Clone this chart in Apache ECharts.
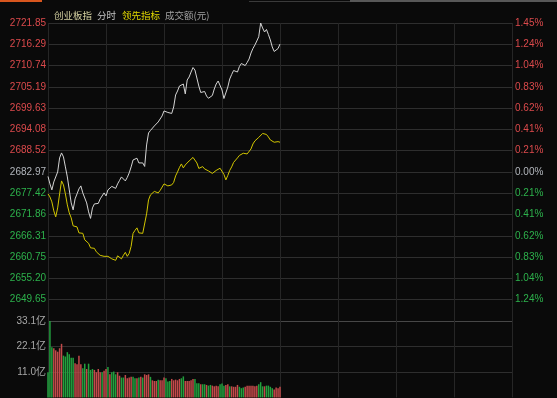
<!DOCTYPE html>
<html>
<head>
<meta charset="utf-8">
<title>创业板指 分时</title>
<script src="https://cdn.jsdelivr.net/npm/echarts@6/dist/echarts.min.js"></script>
<style>
html, body { margin: 0; padding: 0; background: #0a0a0a; }
#main { width: 557px; height: 398px; }
</style>
</head>
<body>
<div id="main"></div>
<script>
var preClose = 2682.97;
// 价格轴刻度 / 涨跌幅刻度
var priceTicks = [2721.85, 2716.29, 2710.74, 2705.19, 2699.63, 2694.08, 2688.52, 2682.97, 2677.42, 2671.86, 2666.31, 2660.75, 2655.20, 2649.65];
var pctLabels = ['1.45%', '1.24%', '1.04%', '0.83%', '0.62%', '0.41%', '0.21%', '0.00%', '0.21%', '0.41%', '0.62%', '0.83%', '1.04%', '1.24%'];
// 成交额刻度(亿)
var volTicks = [11.0, 22.1, 33.1];
var volLabels = ['11.0亿', '22.1亿', '33.1亿'];

// 分时价格(白线), 9:30 起每分钟一个点, 到 11:30
var priceData = [
	2681.82, 2679.87, 2678.30, 2680.39, 2679.87, 2683.00, 2686.65, 2687.95, 2686.91, 2684.30,
	2681.69, 2678.30, 2674.91, 2673.09, 2675.96, 2677.26, 2678.56, 2679.35, 2677.52, 2677.78,
	2674.91, 2672.57, 2670.87, 2673.61, 2674.65, 2674.91, 2674.78, 2675.96, 2675.44, 2677.52,
	2676.74, 2678.30, 2677.91, 2679.22, 2678.83, 2678.70, 2679.87, 2680.78, 2681.69, 2681.43,
	2680.65, 2681.56, 2682.74, 2684.30, 2686.12, 2685.68, 2686.57, 2685.34, 2685.86, 2685.34,
	2684.43, 2690.03, 2693.16, 2693.81, 2694.20, 2694.99, 2694.99, 2696.03, 2695.77, 2697.59,
	2698.90, 2698.90, 2698.51, 2698.38, 2698.25, 2699.94, 2703.07, 2704.11, 2705.41, 2704.89,
	2705.93, 2703.35, 2706.98, 2707.76, 2709.06, 2710.23, 2709.58, 2707.50, 2705.41, 2703.72,
	2703.85, 2703.98, 2702.80, 2702.21, 2702.21, 2702.93, 2704.63, 2705.93, 2706.72, 2706.46,
	2704.37, 2702.15, 2701.89, 2705.15, 2707.24, 2708.41, 2709.45, 2709.58, 2709.06, 2710.49,
	2711.28, 2710.88, 2710.75, 2711.54, 2712.45, 2714.02, 2715.19, 2716.10, 2717.15, 2718.27,
	2721.85, 2720.55, 2719.50, 2720.16, 2718.85, 2717.42, 2715.59, 2714.42, 2714.16, 2715.19,
	2716.36
];
// 领先指标(黄线)
var leadData = [
	2677.26, 2676.48, 2675.18, 2672.83, 2671.27, 2673.61, 2677.26, 2680.65, 2679.61, 2677.26,
	2674.39, 2672.31, 2671.01, 2668.92, 2669.18, 2668.66, 2667.10, 2666.58, 2666.97, 2665.28,
	2665.67, 2664.36, 2663.19, 2662.67, 2663.06, 2662.15, 2661.76, 2661.23, 2660.84, 2660.97,
	2660.45, 2660.97, 2660.71, 2660.32, 2660.58, 2659.93, 2661.10, 2660.71, 2660.32, 2661.23,
	2662.02, 2660.97, 2661.76, 2663.58, 2666.97, 2667.75, 2668.40, 2667.10, 2667.36, 2666.97,
	2666.58, 2672.05, 2675.70, 2677.00, 2677.52, 2677.91, 2678.17, 2677.52, 2678.17, 2678.56,
	2679.87, 2679.74, 2679.35, 2679.61, 2679.61, 2680.26, 2681.95, 2683.00, 2684.17, 2685.08,
	2684.04, 2684.82, 2685.21, 2685.86, 2686.38, 2686.78, 2686.65, 2685.34, 2683.91, 2683.65,
	2684.38, 2683.78, 2683.91, 2683.26, 2682.87, 2682.61, 2683.00, 2683.39, 2683.65, 2683.96,
	2684.12, 2682.34, 2680.91, 2682.08, 2683.39, 2684.30, 2685.47, 2685.68, 2686.65, 2687.30,
	2687.69, 2687.87, 2687.69, 2687.69, 2688.08, 2688.99, 2690.29, 2691.08, 2691.47, 2691.99,
	2692.38, 2693.03, 2692.51, 2692.77, 2692.12, 2691.34, 2690.82, 2690.74, 2690.74, 2690.90,
	2690.74
];
// 每分钟成交额(亿)
var volData = [
	10.9, 33.1, 21.7, 21.3, 20.4, 19.8, 21.3, 23.2, 18.1, 17.7,
	19.6, 18.7, 17.2, 17.2, 14.8, 14.4, 18.0, 14.4, 12.6, 14.6,
	12.3, 14.6, 11.9, 12.3, 11.9, 10.9, 12.3, 10.9, 10.9, 11.5,
	12.3, 13.2, 10.0, 10.9, 11.2, 10.0, 10.9, 9.4, 8.6, 8.6,
	9.7, 8.3, 8.6, 8.9, 8.9, 8.3, 8.3, 8.6, 8.9, 8.6,
	10.0, 9.7, 10.0, 8.9, 7.4, 7.1, 7.1, 7.7, 7.4, 7.4,
	8.6, 8.3, 6.9, 7.1, 8.0, 7.4, 7.7, 7.4, 8.0, 8.3,
	9.1, 7.1, 7.1, 7.1, 7.4, 8.0, 8.0, 6.1, 6.1, 5.7,
	5.7, 5.7, 5.4, 5.1, 5.4, 5.1, 4.8, 5.1, 4.8, 5.7,
	6.0, 5.1, 5.4, 5.7, 4.8, 4.8, 4.6, 4.6, 5.4, 4.6,
	4.0, 4.3, 4.6, 5.1, 5.1, 5.1, 5.1, 4.8, 5.1, 5.7,
	6.6, 4.8, 4.8, 5.1, 5.1, 4.6, 4.0, 3.4, 4.3, 4.0,
	4.6
];
// 1=涨(红) 0=跌(绿)
var volUp = [
	0, 0, 0, 1, 1, 1, 1, 1, 0, 0,
	0, 0, 0, 0, 1, 1, 1, 1, 0, 0,
	1, 0, 0, 0, 1, 1, 1, 1, 0, 1,
	1, 0, 1, 0, 0, 0, 1, 1, 0, 0,
	1, 1, 1, 1, 0, 0, 1, 0, 1, 0,
	1, 1, 1, 0, 1, 1, 1, 0, 1, 1,
	1, 0, 0, 0, 1, 1, 1, 1, 1, 0,
	0, 1, 1, 1, 1, 1, 0, 0, 0, 1,
	0, 0, 1, 0, 0, 1, 1, 1, 1, 0,
	0, 0, 1, 1, 0, 1, 1, 1, 1, 0,
	0, 0, 1, 1, 1, 1, 1, 1, 1, 0,
	0, 0, 1, 0, 0, 0, 0, 1, 1, 1,
	1
];

var RED = '#dc4a4c';
var GREEN = '#2db24c';
var GRAY = '#b2b6bc';
var labelFont = '"Liberation Sans", Arial, "Noto Sans CJK SC", sans-serif';
var titleFont = '9.5px "Noto Sans CJK SC"';

function tickColor(val) {
	var v = parseFloat(val);
	if (v > preClose + 0.001) {
		return RED;
	} else if (v < preClose - 0.001) {
		return GREEN;
	}
	return GRAY;
}

function tickIndex(arr, val) {
	var v = parseFloat(val);
	for (var i = 0; i < arr.length; i++) {
		if (Math.abs(arr[i] - v) < 0.001) {
			return i;
		}
	}
	return -1;
}

var priceArr = [];
var leadArr = [];
var volArr = [];
for (var i = 0; i < priceData.length; i++) {
	priceArr[priceArr.length] = [i, priceData[i]];
	leadArr[leadArr.length] = [i, leadData[i]];
}
for (var j = 0; j < volData.length; j++) {
	volArr[volArr.length] = {
		value : [j, volData[j]],
		itemStyle : { color : volUp[j] == 1 ? '#c24a4a' : '#22a03e' }
	};
}

var chart = echarts.init(document.getElementById('main'), null, { renderer : 'canvas' });
var option = {
	backgroundColor : '#0a0a0a',
	animation : false,
	graphic : [
		{ type : 'rect', shape : { x : 0, y : 0, width : 42, height : 2 }, style : { fill : '#d8561e' } },
		{ type : 'rect', shape : { x : 249, y : 1, width : 101, height : 1 }, style : { fill : '#3a3a3a' } },
		{ type : 'rect', shape : { x : 350, y : 0, width : 207, height : 2 }, style : { fill : '#585858' } },
		{ type : 'text', x : 54, y : 15, style : { text : '创业板指', fill : '#d6d2a2', font : titleFont, verticalAlign : 'middle' } },
		{ type : 'text', x : 97, y : 15, style : { text : '分时', fill : '#c4c4c4', font : titleFont, verticalAlign : 'middle' } },
		{ type : 'text', x : 122, y : 15, style : { text : '领先指标', fill : '#e2d800', font : titleFont, verticalAlign : 'middle' } },
		{ type : 'text', x : 165, y : 15, style : { text : '成交额(元)', fill : '#a2a2a2', font : titleFont, verticalAlign : 'middle' } }
	],
	grid : [
		{ left : 48, right : 45, top : 23, height : 298 },
		{ left : 48, right : 45, top : 321, height : 76.4 }
	],
	xAxis : [
		{
			type : 'value',
			gridIndex : 0,
			min : 0,
			max : 240,
			interval : 30,
			axisLine : { show : false },
			axisTick : { show : false },
			axisLabel : { show : false },
			splitLine : { show : true, lineStyle : { color : '#262626', width : 1 } }
		}, {
			type : 'value',
			gridIndex : 1,
			min : 0,
			max : 240,
			interval : 30,
			axisLine : { show : false },
			axisTick : { show : false },
			axisLabel : { show : false },
			splitLine : { show : true, lineStyle : { color : '#262626', width : 1 } }
		}
	],
	yAxis : [
		{
			type : 'value',
			gridIndex : 0,
			position : 'left',
			min : 2644.10,
			max : 2721.85,
			axisLine : { show : false },
			axisTick : { show : false, customValues : priceTicks },
			axisLabel : {
				customValues : priceTicks,
				margin : 2,
				fontSize : 10,
				fontFamily : labelFont,
				formatter : function(val) {
					return val.toFixed(2);
				},
				color : tickColor
			},
			splitLine : { show : true, lineStyle : { color : '#2e2e2e', width : 1 } }
		}, {
			type : 'value',
			gridIndex : 0,
			position : 'right',
			min : 2644.10,
			max : 2721.85,
			axisLine : { show : false },
			axisTick : { show : false, customValues : priceTicks },
			axisLabel : {
				customValues : priceTicks,
				margin : 3,
				fontSize : 10,
				fontFamily : labelFont,
				formatter : function(val) {
					return pctLabels[tickIndex(priceTicks, val)];
				},
				color : tickColor
			},
			splitLine : { show : false }
		}, {
			type : 'value',
			gridIndex : 1,
			position : 'left',
			min : 0,
			max : 33.1,
			axisLine : { show : false },
			axisTick : { show : false, customValues : volTicks },
			axisLabel : {
				customValues : volTicks,
				margin : 2,
				fontSize : 10,
				fontFamily : labelFont,
				color : '#a8a8a8',
				formatter : function(val) {
					return volLabels[tickIndex(volTicks, val)];
				}
			},
			splitLine : { show : true, lineStyle : { color : ['#2e2e2e', '#2e2e2e', '#474747'], width : 1 } }
		}
	],
	series : [
		{
			name : '创业板指',
			type : 'line',
			xAxisIndex : 0,
			yAxisIndex : 0,
			data : priceArr,
			symbol : 'none',
			silent : true,
			lineStyle : { color : '#d4d4d4', width : 1 }
		}, {
			name : '领先指标',
			type : 'line',
			xAxisIndex : 0,
			yAxisIndex : 0,
			data : leadArr,
			symbol : 'none',
			silent : true,
			lineStyle : { color : '#d2c600', width : 1 }
		}, {
			name : '成交额',
			type : 'bar',
			xAxisIndex : 1,
			yAxisIndex : 2,
			data : volArr,
			barWidth : 1.5,
			silent : true
		}
	]
};
chart.setOption(option);
</script>
</body>
</html>
